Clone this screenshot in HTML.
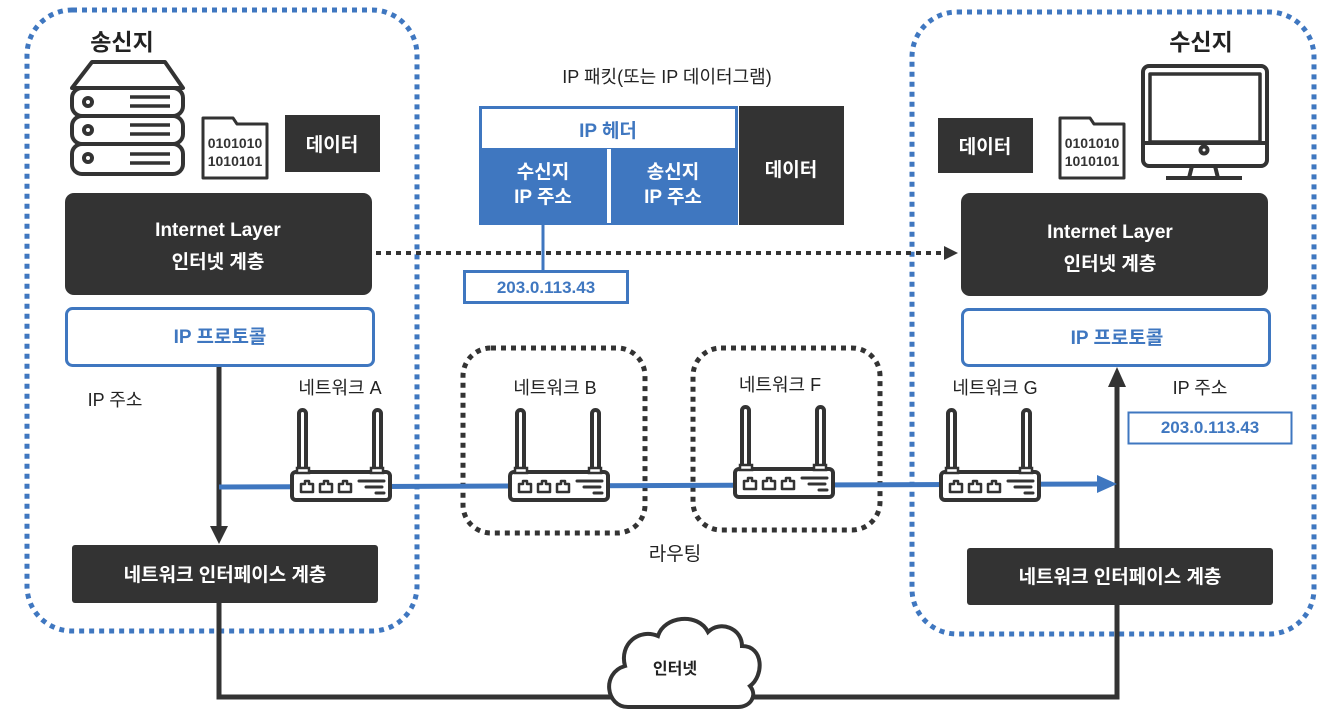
<!DOCTYPE html>
<html><head><meta charset="utf-8"><style>
body{margin:0;background:#fff}
svg{display:block}
text{font-family:"Liberation Sans","Noto Sans CJK KR",sans-serif}
</style></head><body>
<svg width="1343" height="726" viewBox="0 0 1343 726" xmlns="http://www.w3.org/2000/svg">
<defs>
<g id="router" fill="none" stroke="#333" stroke-width="4" stroke-linecap="round">
  <rect x="0" y="0" width="98" height="28" rx="4" fill="#fff"/>
  <rect x="7" y="-62" width="7" height="60" rx="3.5" fill="#fff"/>
  <rect x="82" y="-62" width="7" height="60" rx="3.5" fill="#fff"/>
  <rect x="5" y="-4" width="12" height="5" fill="#fff" stroke-width="2.5"/>
  <rect x="79" y="-4" width="12" height="5" fill="#fff" stroke-width="2.5"/>
  <path d="M9 20v-8h4v-3h4v3h4v8zM28 20v-8h4v-3h4v3h4v8zM47 20v-8h4v-3h4v3h4v8z" stroke-width="2.5" stroke-linejoin="round"/>
  <path d="M67 9h25M74 15h16M84 21h8" stroke-width="3"/>
</g>
</defs>

<!-- dotted zones -->
<rect x="27" y="10" width="390" height="621" rx="45" fill="none" stroke="#3f77c0" stroke-width="5" stroke-dasharray="5 5"/>
<rect x="912" y="12" width="402" height="622" rx="45" fill="none" stroke="#3f77c0" stroke-width="5" stroke-dasharray="5 5"/>
<rect x="463" y="348" width="182" height="185" rx="28" fill="none" stroke="#333" stroke-width="5" stroke-dasharray="5 5"/>
<rect x="693" y="348" width="187" height="182" rx="28" fill="none" stroke="#333" stroke-width="5" stroke-dasharray="5 5"/>

<!-- connection lines -->
<path d="M219 603V697H1117V375" fill="none" stroke="#333" stroke-width="5"/>
<path d="M1117 367l-9 20h18z" fill="#333"/>
<line x1="219" y1="366" x2="219" y2="528" stroke="#333" stroke-width="5"/>
<path d="M210 526l9 18 9-18z" fill="#333"/>
<line x1="219" y1="487" x2="1100" y2="484" stroke="#3f77c0" stroke-width="5"/>
<path d="M1117 484l-20-9v18z" fill="#3f77c0"/>
<line x1="376" y1="253" x2="945" y2="253" stroke="#333" stroke-width="4" stroke-dasharray="5 5"/>
<path d="M958 253l-14-7v14z" fill="#333"/>

<!-- left side -->
<text x="122" y="50" font-size="23" font-weight="bold" fill="#222" text-anchor="middle">송신지</text>
<g fill="none" stroke="#333" stroke-width="4" stroke-linejoin="round">
  <path d="M72 88L92 62H165L183 88Z"/>
  <rect x="72" y="88" width="111" height="28" rx="10" fill="#fff"/>
  <rect x="72" y="116" width="111" height="28" rx="10" fill="#fff"/>
  <rect x="72" y="144" width="111" height="30" rx="10" fill="#fff"/>
  <circle cx="88" cy="102" r="4"/><circle cx="88" cy="130" r="4"/><circle cx="88" cy="158" r="4"/>
  <path d="M130 97h40M130 106h40M130 125h40M130 134h40M130 154h40M130 163h40" stroke-width="3.5"/>
  <path d="M203 118h30l4 6h30v54h-64z" stroke-width="3"/>
</g>
<text x="235" y="148" font-size="14" font-weight="bold" fill="#333" text-anchor="middle">0101010</text>
<text x="235" y="166" font-size="14" font-weight="bold" fill="#333" text-anchor="middle">1010101</text>
<rect x="285" y="115" width="95" height="57" fill="#333"/>
<text x="332" y="151" font-size="19" fill="#fff" text-anchor="middle" font-weight="bold">데이터</text>
<rect x="65" y="193" width="307" height="102" rx="9" fill="#333"/>
<text x="218" y="236" font-size="19" fill="#fff" text-anchor="middle" font-weight="bold">Internet Layer</text>
<text x="218" y="268" font-size="19" fill="#fff" text-anchor="middle" font-weight="bold">인터넷 계층</text>
<rect x="66.5" y="308.5" width="307" height="57" rx="6" fill="#fff" stroke="#3f77c0" stroke-width="3"/>
<text x="220" y="343" font-size="19" fill="#3f77c0" text-anchor="middle" font-weight="bold">IP 프로토콜</text>
<text x="115" y="406" font-size="18" fill="#222" text-anchor="middle">IP 주소</text>
<rect x="72" y="545" width="306" height="58" rx="3" fill="#333"/>
<text x="225" y="581" font-size="19" fill="#fff" text-anchor="middle" font-weight="bold">네트워크 인터페이스 계층</text>

<!-- packet -->
<text x="667" y="83" font-size="18" fill="#222" text-anchor="middle">IP 패킷(또는 IP 데이터그램)</text>
<rect x="479" y="148" width="259" height="77" fill="#3f77c0"/>
<rect x="480.5" y="107.5" width="256" height="42" fill="#fff" stroke="#3f77c0" stroke-width="3"/>
<rect x="607" y="149" width="4" height="74" fill="#fff"/>
<text x="608" y="137" font-size="19" fill="#3f77c0" text-anchor="middle" font-weight="bold">IP 헤더</text>
<text x="543" y="178" font-size="19" fill="#fff" text-anchor="middle" font-weight="bold">수신지</text>
<text x="543" y="203" font-size="19" fill="#fff" text-anchor="middle" font-weight="bold">IP 주소</text>
<text x="673" y="178" font-size="19" fill="#fff" text-anchor="middle" font-weight="bold">송신지</text>
<text x="673" y="203" font-size="19" fill="#fff" text-anchor="middle" font-weight="bold">IP 주소</text>
<rect x="739" y="106" width="105" height="119" fill="#333"/>
<text x="791" y="176" font-size="19" fill="#fff" text-anchor="middle" font-weight="bold">데이터</text>
<line x1="543" y1="225" x2="543" y2="271" stroke="#3f77c0" stroke-width="3"/>
<rect x="464.5" y="271.5" width="163" height="31" fill="#fff" stroke="#3f77c0" stroke-width="3"/>
<text x="546" y="293" font-size="17" fill="#3f77c0" text-anchor="middle" font-weight="bold">203.0.113.43</text>

<!-- routers -->
<use href="#router" x="292" y="472"/>
<use href="#router" x="510" y="472"/>
<use href="#router" x="735" y="469"/>
<use href="#router" x="941" y="472"/>
<text x="340" y="394" font-size="18" fill="#222" text-anchor="middle">네트워크 A</text>
<text x="555" y="394" font-size="18" fill="#222" text-anchor="middle">네트워크 B</text>
<text x="780" y="391" font-size="18" fill="#222" text-anchor="middle">네트워크 F</text>
<text x="995" y="394" font-size="18" fill="#222" text-anchor="middle">네트워크 G</text>
<text x="675" y="560" font-size="19" fill="#222" text-anchor="middle">라우팅</text>

<!-- cloud -->
<path d="M628 707c-22 0-27-34-3-41c-6-22 14-38 33-30c6-20 40-24 50-4c12-12 34-4 34 14c22 0 22 30 8 40c8 10 0 21-12 21z" fill="#fff" stroke="#333" stroke-width="4"/>
<text x="675" y="674" font-size="16" fill="#222" text-anchor="middle" font-weight="bold">인터넷</text>

<!-- right side -->
<text x="1201" y="50" font-size="23" font-weight="bold" fill="#222" text-anchor="middle">수신지</text>
<g fill="none" stroke="#333" stroke-width="4" stroke-linejoin="round">
  <rect x="1143" y="66" width="124" height="100" rx="6"/>
  <path d="M1150 74h110v68h-110z" stroke-width="3.5"/>
  <line x1="1143" y1="143" x2="1267" y2="143"/>
  <circle cx="1204" cy="150" r="3.5"/>
  <path d="M1192 166l-3 12M1215 166l3 12M1166 178h76"/>
  <path d="M1060 118h30l4 6h30v54h-64z" stroke-width="3"/>
</g>
<text x="1092" y="148" font-size="14" font-weight="bold" fill="#333" text-anchor="middle">0101010</text>
<text x="1092" y="166" font-size="14" font-weight="bold" fill="#333" text-anchor="middle">1010101</text>
<rect x="938" y="118" width="95" height="55" fill="#333"/>
<text x="985" y="153" font-size="19" fill="#fff" text-anchor="middle" font-weight="bold">데이터</text>
<rect x="961" y="193" width="307" height="103" rx="9" fill="#333"/>
<text x="1110" y="238" font-size="19" fill="#fff" text-anchor="middle" font-weight="bold">Internet Layer</text>
<text x="1110" y="270" font-size="19" fill="#fff" text-anchor="middle" font-weight="bold">인터넷 계층</text>
<rect x="962.5" y="309.5" width="307" height="56" rx="6" fill="#fff" stroke="#3f77c0" stroke-width="3"/>
<text x="1117" y="344" font-size="19" fill="#3f77c0" text-anchor="middle" font-weight="bold">IP 프로토콜</text>
<text x="1200" y="394" font-size="18" fill="#222" text-anchor="middle">IP 주소</text>
<rect x="1128.5" y="412.5" width="163" height="31" fill="#fff" stroke="#3f77c0" stroke-width="2"/>
<text x="1210" y="433" font-size="17" fill="#3f77c0" text-anchor="middle" font-weight="bold">203.0.113.43</text>
<rect x="967" y="548" width="306" height="57" rx="3" fill="#333"/>
<text x="1120" y="583" font-size="19" fill="#fff" text-anchor="middle" font-weight="bold">네트워크 인터페이스 계층</text>
</svg>
</body></html>
